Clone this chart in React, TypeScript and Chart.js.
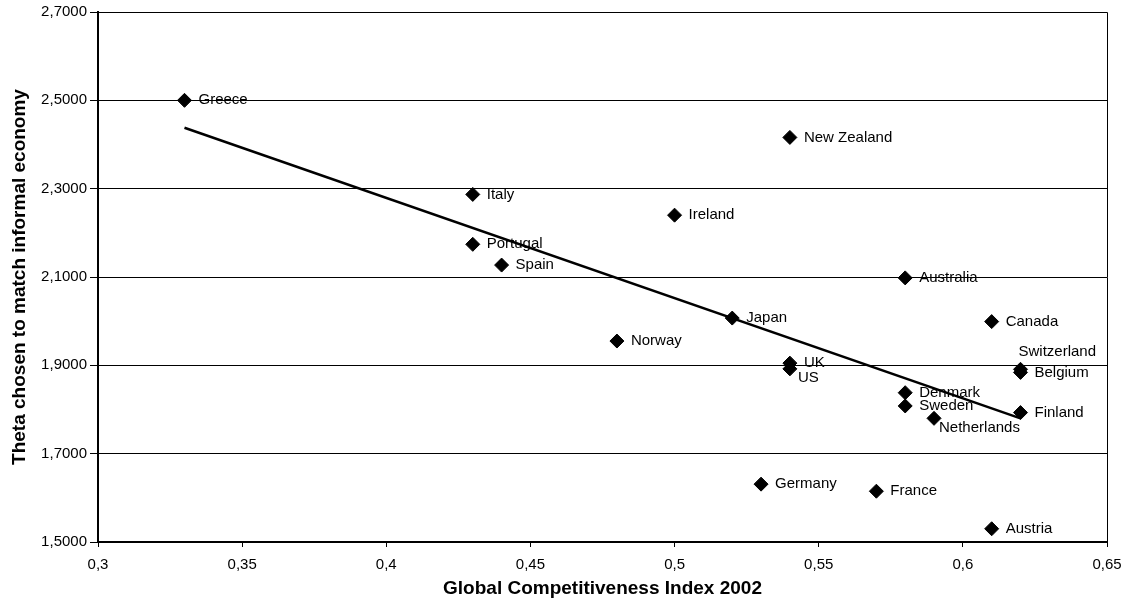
import React, { useEffect, useRef } from 'react';
import { Chart, registerables } from 'chart.js';

Chart.register(...registerables);

const countries = [
  'Greece', 'New Zealand', 'Italy', 'Ireland', 'Portugal', 'Spain', 'Australia',
  'Japan', 'Canada', 'Norway', 'UK', 'US', 'Switzerland', 'Belgium', 'Denmark',
  'Sweden', 'Netherlands', 'Finland', 'Germany', 'France', 'Austria',
];
const gciValues = [
  0.33, 0.54, 0.43, 0.50, 0.43, 0.44, 0.58,
  0.52, 0.61, 0.48, 0.54, 0.54, 0.62, 0.62, 0.58,
  0.58, 0.59, 0.62, 0.53, 0.57, 0.61,
];
const thetaValues = [
  2.500, 2.416, 2.287, 2.240, 2.174, 2.127, 2.098,
  2.007, 1.999, 1.955, 1.905, 1.892, 1.891, 1.884, 1.838,
  1.808, 1.780, 1.793, 1.631, 1.615, 1.530,
];
const trendX = [0.33, 0.62];
const trendY = [2.438, 1.780];

const xTitle = 'Global Competitiveness Index 2002';
const yTitle = 'Theta chosen to match informal economy';

// label placement relative to each marker (pixels)
const labelOffsets: Record<string, [number, number]> = {
  Switzerland: [-2, -17],
  US: [8, 9],
  Netherlands: [5, 10],
};

const FONT = '"Liberation Sans", Arial, Helvetica, sans-serif';

const labelPlugin = {
  id: 'pointLabels',
  afterDatasetsDraw(chart: any) {
    const meta = chart.getDatasetMeta(0);
    const ctx = chart.ctx;
    ctx.save();
    ctx.font = `15px ${FONT}`;
    ctx.fillStyle = '#000';
    ctx.textBaseline = 'middle';
    ctx.textAlign = 'left';
    meta.data.forEach((pt: any, i: number) => {
      const name = countries[i];
      const off = labelOffsets[name] || [14, 0];
      ctx.fillText(name, pt.x + off[0], pt.y + off[1]);
    });
    ctx.restore();
  },
};

const framePlugin = {
  id: 'frame',
  afterDraw(chart: any) {
    const { ctx, chartArea } = chart;
    ctx.save();
    ctx.strokeStyle = '#000';
    ctx.lineWidth = 1;
    ctx.beginPath();
    ctx.moveTo(Math.round(chartArea.left), Math.round(chartArea.top) + 0.5);
    ctx.lineTo(Math.round(chartArea.right) + 0.5, Math.round(chartArea.top) + 0.5);
    ctx.lineTo(Math.round(chartArea.right) + 0.5, Math.round(chartArea.bottom));
    ctx.stroke();
    ctx.restore();
  },
};

export default function App() {
  const canvasRef = useRef<HTMLCanvasElement | null>(null);

  useEffect(() => {
    document.body.style.margin = '0';
    const canvas = canvasRef.current;
    if (!canvas) return;

    const points = gciValues.map((x, i) => ({ x, y: thetaValues[i] }));
    const trend = trendX.map((x, i) => ({ x, y: trendY[i] }));

    const chart = new Chart(canvas, {
      type: 'scatter',
      data: {
        datasets: [
          {
            label: 'Countries',
            data: points,
            pointStyle: 'rectRot',
            pointRadius: 7,
            pointBackgroundColor: '#000',
            pointBorderColor: '#000',
            pointBorderWidth: 1,
            showLine: false,
            order: 1,
          },
          {
            label: 'Trend',
            data: trend,
            showLine: true,
            borderColor: '#000',
            borderWidth: 2.5,
            pointRadius: 0,
            fill: false,
            order: 2,
          } as any,
        ],
      },
      options: {
        animation: false,
        responsive: false,
        maintainAspectRatio: false,
        layout: { padding: { left: 0, right: 20, top: 10, bottom: 0 } },
        plugins: {
          legend: { display: false },
          tooltip: { enabled: false },
        },
        scales: {
          x: {
            type: 'linear',
            min: 0.3,
            max: 0.65,
            afterFit: (scale: any) => {
              scale.height = 61;
              scale.paddingRight = 0;
              scale.paddingLeft = 0;
            },
            ticks: {
              stepSize: 0.05,
              color: '#000',
              padding: 9,
              font: { family: FONT, size: 15 },
              maxRotation: 0,
              callback: (v: any) => String(Math.round(Number(v) * 100) / 100).replace('.', ','),
            },
            grid: {
              drawOnChartArea: false,
              drawTicks: true,
              tickLength: 5,
              color: '#000',
              tickColor: '#000',
            },
            border: { display: true, color: '#000', width: 2 },
            title: {
              display: true,
              text: xTitle,
              color: '#000',
              font: { family: FONT, size: 19, weight: 'bold' },
              padding: { top: 0, bottom: 3 },
            },
          },
          y: {
            type: 'linear',
            min: 1.5,
            max: 2.7,
            afterFit: (scale: any) => { scale.width = 98; },
            ticks: {
              stepSize: 0.2,
              color: '#000',
              padding: 3,
              font: { family: FONT, size: 15 },
              callback: (v: any) => Number(v).toFixed(4).replace('.', ','),
            },
            grid: {
              drawOnChartArea: true,
              drawTicks: true,
              tickLength: 8,
              color: '#000',
              tickColor: '#000',
              lineWidth: 1,
            },
            border: { display: true, color: '#000', width: 2 },
            title: {
              display: true,
              text: yTitle,
              color: '#000',
              font: { family: FONT, size: 19, weight: 'bold' },
              padding: { top: 8, bottom: 0 },
            },
          },
        },
      } as any,
      plugins: [labelPlugin, framePlugin],
    });

    return () => chart.destroy();
  }, []);

  return (
    <div style={{ width: 1127, height: 603, background: '#fff' }}>
      <canvas ref={canvasRef} width={1127} height={603} style={{ display: 'block' }} />
    </div>
  );
}
